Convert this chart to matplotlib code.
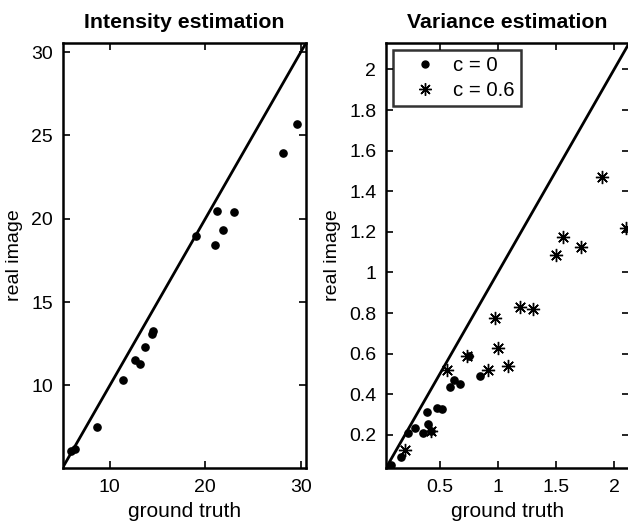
import matplotlib
matplotlib.use("Agg")
import matplotlib.pyplot as plt
from matplotlib.ticker import FuncFormatter
from matplotlib.lines import Line2D

plt.rcParams['font.family'] = ['Liberation Sans', 'DejaVu Sans']

# Intensity estimation data
int_truth = [29.65, 28.14, 21.19, 23.02, 21.82, 21.05, 19.08, 14.56, 14.39, 13.72,
             12.63, 13.16, 11.37, 8.70, 6.32, 5.97]
int_real = [25.70, 23.92, 20.44, 20.40, 19.34, 18.40, 18.94, 13.24, 13.06, 12.30,
            11.52, 11.30, 10.36, 7.52, 6.17, 6.07]
int_lim = [5.05, 30.55]

# Variance estimation data, c = 0
var0_truth = [0.076, 0.162, 0.225, 0.285, 0.386, 0.400, 0.356, 0.420, 0.477, 0.517,
              0.592, 0.620, 0.678, 0.844, 0.752]
var0_real = [0.051, 0.089, 0.208, 0.233, 0.313, 0.253, 0.208, 0.220, 0.333, 0.330,
             0.436, 0.471, 0.450, 0.490, 0.589]
# Variance estimation data, c = 0.6
var6_truth = [0.201, 0.420, 0.563, 0.730, 0.916, 1.088, 1.002, 0.973, 1.194, 1.303,
              1.498, 1.558, 1.711, 1.894, 2.106]
var6_real = [0.125, 0.220, 0.519, 0.589, 0.520, 0.540, 0.626, 0.778, 0.828, 0.819,
             1.086, 1.173, 1.125, 1.472, 1.217]
var_lim = [0.037, 2.13]

int_xticks = [10, 20, 30]
int_yticks = [10, 15, 20, 25, 30]
var_xticks = [0.5, 1, 1.5, 2]
var_yticks = [0.2, 0.4, 0.6, 0.8, 1.0, 1.2, 1.4, 1.6, 1.8, 2.0]

W, H = 628, 521
fig = plt.figure(figsize=(W / 100, H / 100), dpi=100)

def px_axes(x0, x1, y0, y1):
    return fig.add_axes([x0 / W, 1 - y1 / H, (x1 - x0) / W, (y1 - y0) / H])

ax1 = px_axes(62.5, 306, 43, 468)
ax2 = px_axes(386, 629.2, 43, 468)

fmt = FuncFormatter(lambda v, p: '%g' % v)

for ax in (ax1, ax2):
    for s in ax.spines.values():
        s.set_linewidth(1.8)
    ax.tick_params(direction='in', length=5, width=1.2, top=True, right=True,
                   labelsize=14)
    ax.tick_params(axis='x', pad=8)
    ax.tick_params(axis='y', pad=7)
    ax.xaxis.set_major_formatter(fmt)
    ax.yaxis.set_major_formatter(fmt)

TITLE_FS = 15.3
XLABEL_FS = 15
YLABEL_FS = 14

# Left
ax1.plot(int_lim, int_lim, color='black', lw=2)
ax1.plot(int_truth, int_real, 'o', color='black', ms=5.2, ls='none')
ax1.set_xlim(int_lim)
ax1.set_ylim(int_lim)
ax1.set_xticks(int_xticks)
ax1.set_yticks(int_yticks)
ax1.set_title('Intensity estimation', fontsize=TITLE_FS, fontweight='bold', pad=11)
ax1.set_xlabel('ground truth', fontsize=XLABEL_FS, labelpad=4)
ax1.set_ylabel('real image', fontsize=YLABEL_FS, labelpad=6)

# Right
ast = (8, 2, 0)
ax2.plot(var_lim, var_lim, color='black', lw=2)
ax2.plot(var0_truth, var0_real, 'o', color='black', ms=5.2, ls='none')
ax2.plot(var6_truth, var6_real, marker=ast, color='black', ms=9.5, mew=1.0, ls='none')
ax2.set_xlim(var_lim)
ax2.set_ylim(var_lim)
ax2.set_xticks(var_xticks)
ax2.set_yticks(var_yticks)
ax2.set_title('Variance estimation', fontsize=TITLE_FS, fontweight='bold', pad=11)
ax2.set_xlabel('ground truth', fontsize=XLABEL_FS, labelpad=4)
ax2.set_ylabel('real image', fontsize=YLABEL_FS, labelpad=6)

handles = [Line2D([], [], marker='o', color='black', ls='none', ms=5),
           Line2D([], [], marker=ast, color='black', ls='none', ms=9, mew=1.0)]
leg = ax2.legend(handles, ['c = 0', 'c = 0.6'], loc='upper left', fontsize=14.7,
                 frameon=True, fancybox=False, borderaxespad=0.34,
                 handlelength=2.5, handletextpad=0.15, borderpad=0.3,
                 labelspacing=0.3)
leg.get_frame().set_edgecolor('black')
leg.get_frame().set_linewidth(1.8)

fig.savefig('out.png', dpi=100)
